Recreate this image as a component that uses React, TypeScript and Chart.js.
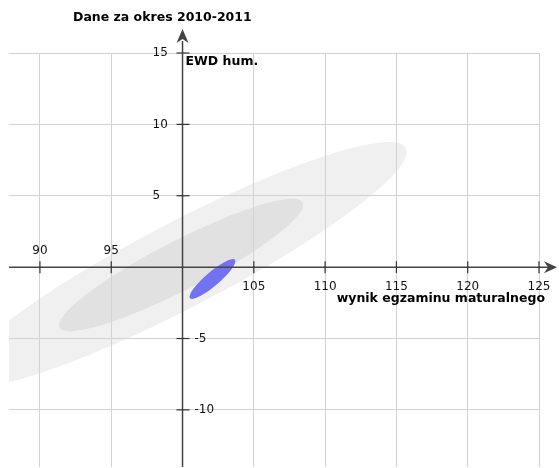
import React, { useEffect, useRef } from "react";
import { Chart, registerables } from "chart.js";

Chart.register(...registerables);

// ---- data ----
const chartTitle = "Dane za okres 2010-2011";
const yAxisTitle = "EWD hum.";
const xAxisTitle = "wynik egzaminu maturalnego";

const xMin = 87.83;
const xMax = 125;
const yMin = -14;
const yMax = 15;
const axisOriginX = 100;
const axisOriginY = 0;

const xGridValues = [90, 95, 100, 105, 110, 115, 120, 125];
const yGridValues = [-10, -5, 0, 5, 10, 15];
const xTickValues = [90, 95, 105, 110, 115, 120, 125];
const yTickValues = [15, 10, 5, -5, -10];

// ellipses: large (light gray), medium (gray), school (blue)
const ellipseNames = ["zakres szerszy", "zakres węższy", "szkoła"];
const ellipseCenterX = [99.9, 99.9, 102.1];
const ellipseCenterY = [0.15, 0.15, -0.83];
const ellipseSemiMajor = [17.76, 9.59, 2.07];
const ellipseSemiMinor = [2.99, 1.72, 0.49];
const ellipseAngleDeg = [27.5, 27.2, 40.5];
const ellipseColors = ["#f0f0f0", "#e1e1e1", "#7272f2"];

const FONT = "'DejaVu Sans', sans-serif";

const ellipsePlugin = {
  id: "ellipses",
  beforeDraw(chart: any) {
    const { ctx, chartArea, scales } = chart;
    const xs = scales.x;
    const ys = scales.y;
    const pxPerX = Math.abs(xs.getPixelForValue(1) - xs.getPixelForValue(0));
    const pxPerY = Math.abs(ys.getPixelForValue(1) - ys.getPixelForValue(0));
    const unit = (pxPerX + pxPerY) / 2;
    ctx.save();
    ctx.beginPath();
    ctx.rect(chartArea.left, chartArea.top, chartArea.right - chartArea.left, chartArea.bottom - chartArea.top);
    ctx.clip();
    for (let i = 0; i < ellipseNames.length; i++) {
      const cx = xs.getPixelForValue(ellipseCenterX[i]);
      const cy = ys.getPixelForValue(ellipseCenterY[i]);
      ctx.beginPath();
      ctx.ellipse(
        cx,
        cy,
        ellipseSemiMajor[i] * unit,
        ellipseSemiMinor[i] * unit,
        (-ellipseAngleDeg[i] * Math.PI) / 180,
        0,
        Math.PI * 2
      );
      ctx.fillStyle = ellipseColors[i];
      ctx.fill();
    }
    ctx.restore();
  },
};

const axesPlugin = {
  id: "crossAxes",
  afterDraw(chart: any) {
    const { ctx, chartArea, scales } = chart;
    const xs = scales.x;
    const ys = scales.y;
    const ax = xs.getPixelForValue(axisOriginX);
    const ay = ys.getPixelForValue(axisOriginY);
    ctx.save();
    ctx.strokeStyle = "#444";
    ctx.fillStyle = "#444";
    ctx.lineWidth = 1.5;
    // x axis
    ctx.beginPath();
    ctx.moveTo(chartArea.left, ay);
    ctx.lineTo(chartArea.right + 12, ay);
    ctx.stroke();
    // y axis
    ctx.beginPath();
    ctx.moveTo(ax, chartArea.bottom);
    ctx.lineTo(ax, chartArea.top - 12);
    ctx.stroke();
    // arrows
    const xt = chartArea.right + 18;
    ctx.beginPath();
    ctx.moveTo(xt, ay);
    ctx.lineTo(xt - 13, ay - 6);
    ctx.lineTo(xt - 9, ay);
    ctx.lineTo(xt - 13, ay + 6);
    ctx.closePath();
    ctx.fill();
    const yt = chartArea.top - 24;
    ctx.beginPath();
    ctx.moveTo(ax, yt);
    ctx.lineTo(ax - 6, yt + 14);
    ctx.lineTo(ax, yt + 10);
    ctx.lineTo(ax + 6, yt + 14);
    ctx.closePath();
    ctx.fill();
    // ticks
    ctx.lineWidth = 1.2;
    ctx.strokeStyle = "#333";
    for (const v of xTickValues) {
      const px = xs.getPixelForValue(v);
      ctx.beginPath();
      ctx.moveTo(px, ay - 6);
      ctx.lineTo(px, ay + 6);
      ctx.stroke();
    }
    for (const v of yTickValues) {
      const py = ys.getPixelForValue(v);
      ctx.beginPath();
      ctx.moveTo(ax - 6, py);
      ctx.lineTo(ax + 7, py);
      ctx.stroke();
    }
    // tick labels
    ctx.fillStyle = "#111";
    ctx.font = `12px ${FONT}`;
    ctx.textBaseline = "middle";
    for (const v of xTickValues) {
      const px = xs.getPixelForValue(v);
      ctx.textAlign = "center";
      if (v < axisOriginX) ctx.fillText(String(v), px, ay - 16);
      else ctx.fillText(String(v), px, ay + 20);
    }
    for (const v of yTickValues) {
      const py = ys.getPixelForValue(v);
      ctx.textAlign = "left";
      if (v > axisOriginY) ctx.fillText(String(v), ax - 30, py);
      else ctx.fillText(String(v), ax + 12, py);
    }
    // titles
    ctx.fillStyle = "#000";
    ctx.font = `bold 12.5px ${FONT}`;
    ctx.textAlign = "left";
    ctx.fillText(yAxisTitle, ax + 3, chartArea.top + 9);
    ctx.textAlign = "right";
    ctx.fillText(xAxisTitle, chartArea.right + 6, ay + 32);
    ctx.textAlign = "left";
    ctx.fillText(chartTitle, 73, chartArea.top - 35);
    ctx.restore();
  },
};

export default function App() {
  const canvasRef = useRef<HTMLCanvasElement | null>(null);
  useEffect(() => {
    const canvas = canvasRef.current;
    if (!canvas) return;
    const chart = new Chart(canvas, {
      type: "scatter",
      data: {
        datasets: [
          {
            label: "centers",
            data: ellipseCenterX.map((x, i) => ({ x, y: ellipseCenterY[i] })),
            pointRadius: 0,
            pointHoverRadius: 0,
          },
        ],
      },
      options: {
        responsive: false,
        animation: false,
        events: [],
        layout: { padding: { left: 9, top: 53, right: 20, bottom: 1 } },
        plugins: { legend: { display: false }, tooltip: { enabled: false }, title: { display: false } },
        scales: {
          x: {
            type: "linear",
            min: xMin,
            max: xMax,
            afterBuildTicks: (scale: any) => {
              scale.ticks = xGridValues.map((v) => ({ value: v }));
            },
            ticks: { display: false },
            border: { display: false },
            grid: { color: "#d2d2d2", lineWidth: 1, drawTicks: false },
          },
          y: {
            type: "linear",
            min: yMin,
            max: yMax,
            afterBuildTicks: (scale: any) => {
              scale.ticks = yGridValues.map((v) => ({ value: v }));
            },
            ticks: { display: false },
            border: { display: false },
            grid: { color: "#d2d2d2", lineWidth: 1, drawTicks: false },
          },
        },
      },
      plugins: [ellipsePlugin, axesPlugin],
    } as any);
    return () => chart.destroy();
  }, []);
  return (
    <div style={{ position: "absolute", left: 0, top: 0, width: 559, height: 468 }}>
      <canvas ref={canvasRef} width={559} height={468} style={{ display: "block" }} />
    </div>
  );
}
